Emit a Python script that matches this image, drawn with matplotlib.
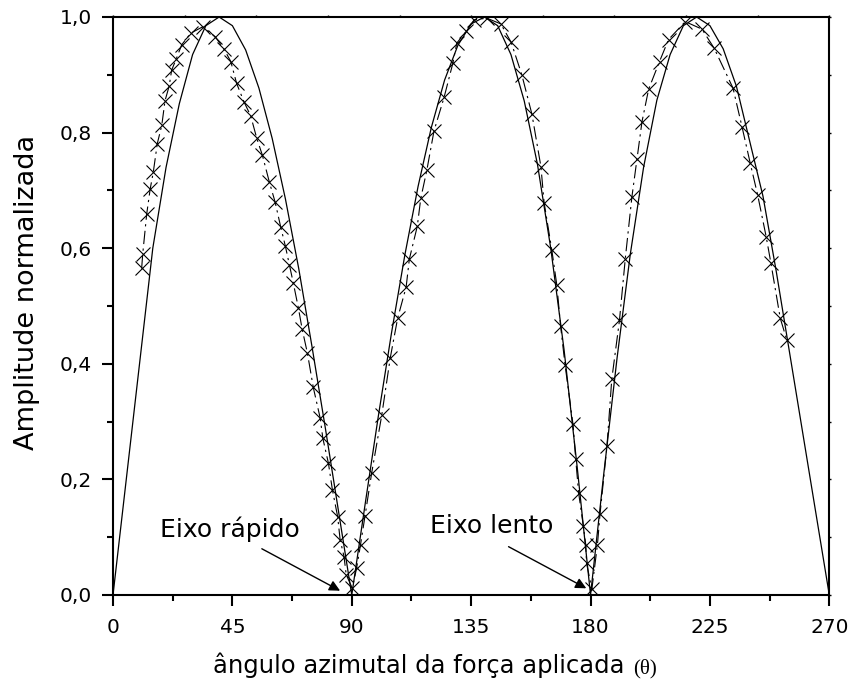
import matplotlib
matplotlib.use("Agg")
import matplotlib.pyplot as plt
from matplotlib.ticker import MultipleLocator, FixedLocator, FuncFormatter

# Theoretical amplitude (solid line), sampled every 5 degrees
theta_model = [0, 5, 10, 15, 20, 25, 30, 35, 40, 45, 50, 55, 60, 65, 70, 75, 80, 85,
               90, 95, 100, 105, 110, 115, 120, 125, 130, 135, 140, 145, 150, 155, 160,
               165, 170, 175, 180, 185, 190, 195, 200, 205, 210, 215, 220, 225, 230,
               235, 240, 245, 250, 255, 260, 265, 270]
amp_model = [0.00, 0.20, 0.40, 0.60, 0.74, 0.85, 0.935, 0.985, 1.00, 0.985, 0.943,
             0.877, 0.79, 0.685, 0.565, 0.43, 0.29, 0.145,
             0.00, 0.156, 0.309, 0.454, 0.588, 0.707, 0.809, 0.891, 0.951, 0.988,
             1.00, 0.985, 0.935, 0.855, 0.745, 0.60, 0.425, 0.22,
             0.00, 0.21, 0.41, 0.59, 0.74, 0.856, 0.935, 0.985, 1.00, 0.985, 0.945,
             0.88, 0.785, 0.69, 0.56, 0.42, 0.28, 0.14, 0.00]

# Measured amplitude (crosses joined by dash-dot line)
theta_meas = [10.8, 11.2, 12.7, 14.0, 15.2, 16.7, 18.4, 19.6, 21.2, 22.1, 23.8, 25.9,
              29.3, 33.8, 38.5, 41.9, 44.4, 46.6, 49.4, 51.9, 54.2, 56.3, 58.9, 61.1,
              63.2, 65.0, 66.5, 68.0, 69.9, 71.3, 73.3, 75.5, 78.1, 79.1, 81.2, 82.7,
              84.7, 85.6, 87.1, 87.9, 90.2, 91.8, 93.3, 95.0, 97.5, 101.3, 104.5,
              107.3, 110.5, 111.7, 114.7, 116.0, 118.3, 121.0, 124.8, 128.1, 129.6,
              133.1, 136.1, 140.9, 146.2, 150.1, 154.1, 157.9, 161.3, 162.5, 165.4,
              167.3, 168.7, 170.4, 173.4, 174.4, 175.5, 177.3, 178.2, 178.5, 180.5,
              182.6, 183.6, 186.2, 188.0, 190.9, 193.1, 195.6, 197.5, 199.4, 201.9,
              206.0, 209.4, 215.7, 222.0, 226.6, 233.7, 237.1, 240.2, 243.0, 246.2,
              248.0, 251.5, 254.0]
amp_meas = [0.565, 0.590, 0.659, 0.702, 0.732, 0.781, 0.813, 0.855, 0.881, 0.908, 0.927,
            0.952, 0.972, 0.983, 0.966, 0.944, 0.923, 0.885, 0.853, 0.829, 0.790, 0.761,
            0.715, 0.680, 0.637, 0.603, 0.571, 0.539, 0.496, 0.460, 0.418, 0.359, 0.306,
            0.271, 0.228, 0.182, 0.135, 0.096, 0.066, 0.035, 0.012, 0.046, 0.087, 0.137,
            0.211, 0.311, 0.410, 0.479, 0.533, 0.581, 0.638, 0.686, 0.735, 0.803, 0.861,
            0.920, 0.955, 0.975, 0.995, 0.998, 0.988, 0.956, 0.900, 0.832, 0.741, 0.679,
            0.597, 0.536, 0.466, 0.398, 0.295, 0.236, 0.177, 0.119, 0.087, 0.055, 0.010,
            0.087, 0.141, 0.258, 0.373, 0.475, 0.582, 0.689, 0.754, 0.819, 0.875, 0.923,
            0.961, 0.992, 0.979, 0.946, 0.877, 0.810, 0.747, 0.692, 0.620, 0.574, 0.479,
            0.441]

x_ticks = [0, 45, 90, 135, 180, 225, 270]
y_ticks = [0.0, 0.2, 0.4, 0.6, 0.8, 1.0]

plt.rcParams['font.family'] = ['DejaVu Sans']

W, H = 852, 683
fig = plt.figure(figsize=(W / 100, H / 100), dpi=100)
ax = fig.add_axes([113 / W, (H - 595) / H, (829.3 - 113) / W, (595 - 17) / H])

ax.plot(theta_model, amp_model, color='black', lw=0.9, zorder=2)
ax.plot(theta_meas, amp_meas, color='black', lw=0.8,
        linestyle=(0, (12, 4, 2, 4)), marker='x', ms=9.5, mew=0.8, zorder=3)

ax.set_xlim(0, 270)
ax.set_ylim(0, 1.0)

ax.xaxis.set_major_locator(FixedLocator(x_ticks))
ax.xaxis.set_minor_locator(MultipleLocator(22.5))
ax.yaxis.set_major_locator(FixedLocator(y_ticks))
ax.yaxis.set_minor_locator(MultipleLocator(0.1))
ax.yaxis.set_major_formatter(FuncFormatter(lambda v, p: f"{v:.1f}".replace('.', ',')))

ax.tick_params(which='major', direction='out', length=8, width=1.5,
               labelsize=14.5, top=False, right=False)
ax.tick_params(axis='x', which='major', pad=8.5)
ax.tick_params(axis='y', which='major', pad=7)
ax.tick_params(which='minor', direction='out', length=4.5, width=1.5,
               top=False, right=False)
for s in ax.spines.values():
    s.set_linewidth(1.5)

# small outer ticks on the top and right spines
top = ax.secondary_xaxis('top')
top.xaxis.set_major_locator(MultipleLocator(27))
top.tick_params(direction='out', length=1.5, width=1, labeltop=False)
top.spines['top'].set_visible(False)
right = ax.secondary_yaxis('right')
right.yaxis.set_major_locator(MultipleLocator(0.1))
right.tick_params(direction='out', length=1.5, width=1, labelright=False)
right.spines['right'].set_visible(False)

# axis titles
fig.text(213 / W, (H - 673) / H, "ângulo azimutal da força aplicada",
         fontsize=17.5, ha='left', va='baseline')
fig.text(633 / W, (H - 673) / H, "(θ)", family=['Liberation Serif', 'DejaVu Serif'],
         fontsize=15, ha='left', va='baseline')
fig.text(27 / W, (H - 292) / H, "Amplitude normalizada", fontsize=19.5,
         rotation=90, ha='center', va='center')

# axis annotations
arrow = dict(arrowstyle='-|>', color='black', lw=1.0, mutation_scale=16,
             shrinkA=0, shrinkB=0)
ax.text(17.7, 0.101, "Eixo rápido", fontsize=18, ha='left', va='baseline')
ax.annotate("", xy=(85.6, 0.0074), xytext=(56.1, 0.080), arrowprops=arrow)
ax.text(119.5, 0.107, "Eixo lento", fontsize=18, ha='left', va='baseline')
ax.annotate("", xy=(178.4, 0.0116), xytext=(149.1, 0.0836), arrowprops=arrow)

fig.savefig("out.png", dpi=100)
